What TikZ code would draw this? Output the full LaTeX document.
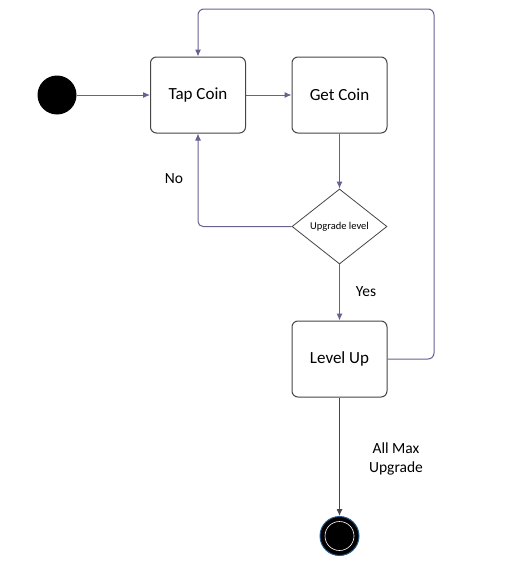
\documentclass[tikz,border=0pt]{standalone}
\usepackage{fontspec}
\setmainfont{Carlito}
\usetikzlibrary{shapes.geometric,arrows.meta}

\definecolor{edgecol}{RGB}{105,96,145}
\definecolor{boxcol}{RGB}{70,70,70}
\definecolor{glowcol}{RGB}{40,90,140}

\begin{document}
\begin{tikzpicture}[x=1pt, y=-1pt,
    state/.style={draw=boxcol, line width=1pt, rounded corners=6pt, fill=white,
                  minimum width=95pt, minimum height=76pt, font=\fontsize{17}{20}\selectfont},
    choice/.style={diamond, draw=boxcol, line width=0.8pt, fill=white, inner sep=0pt,
                   minimum width=95pt, minimum height=75pt, font=\fontsize{10.5}{12}\selectfont},
    flow/.style={draw=edgecol, line width=1pt, -{Latex[length=7pt,width=6pt]}},
    lbl/.style={font=\fontsize{15.5}{18.5}\selectfont, align=center}]
            \useasboundingbox (0,0) rectangle (518,562);
            % Define nodes
            \node[circle, fill=black, minimum size=39pt, inner sep=0pt] (start) at (57,95) {};
            \node[state] (tap) at (198,95) {Tap Coin};
            \node[state] (get) at (339.5,95) {Get Coin};
            \node[choice] (upg) at (339.5,226.5) {Upgrade level};
            \node[state] (lvl) at (339.5,359) {Level Up};
            \node[circle, fill=black, draw=glowcol, line width=1pt, minimum size=39pt, inner sep=0pt] (end) at (339.5,536) {};
            \draw[white, line width=0.6pt] (end.center) circle (14.5pt);
            \coordinate (loop) at (434,9);
            % Draw edges
            \draw[flow] (start) -- (tap);
            \draw[flow] (tap) -- (get);
            \draw[flow] (get) -- (upg);
            \draw[flow, rounded corners=5pt] (upg.west) -| (tap.south);
            \draw[flow] (upg) -- (lvl);
            \draw[flow, rounded corners=6pt] (lvl.east) -| (loop) -| (tap.north);
            \draw[flow, draw=boxcol] (lvl) -- (end);
            % Labels
            \node[lbl] (no) at (174,179) {No};
            \node[lbl] (yes) at (366,292) {Yes};
            \node[lbl] (max) at (396,459) {All Max\\Upgrade};
        \end{tikzpicture}
\end{document}
